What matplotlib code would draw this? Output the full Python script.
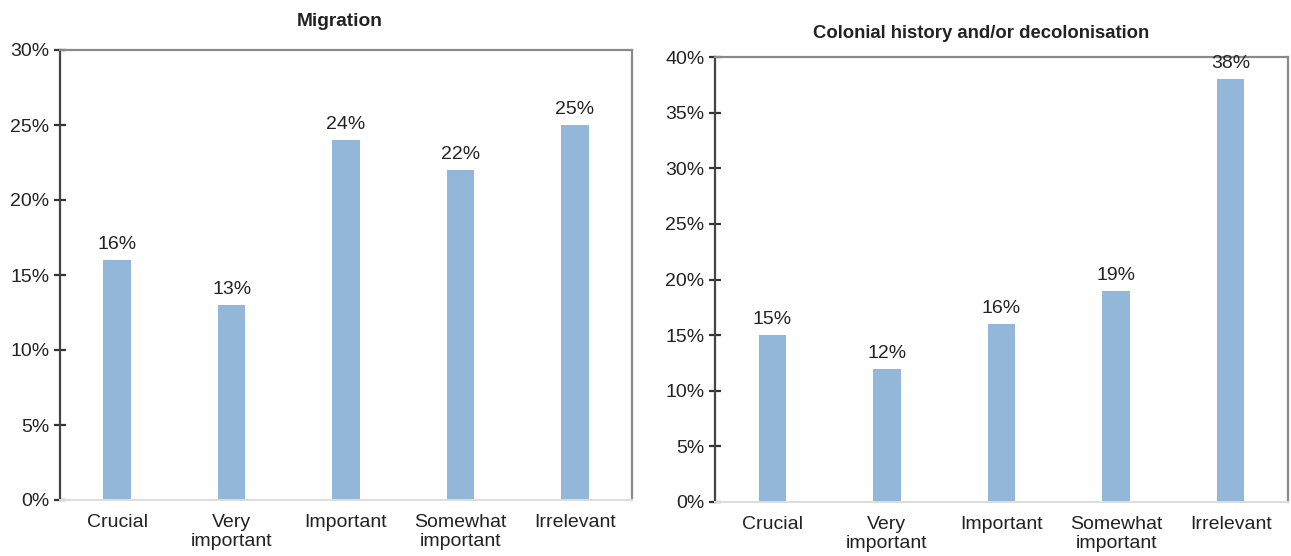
import matplotlib
matplotlib.use("Agg")
import matplotlib.pyplot as plt
from matplotlib.ticker import MultipleLocator, FuncFormatter

plt.rcParams['font.family'] = ['Liberation Sans', 'DejaVu Sans']

categories = ["Crucial", "Very\nimportant", "Important", "Somewhat\nimportant", "Irrelevant"]
migration = [16, 13, 24, 22, 25]
colonial = [15, 12, 16, 19, 38]

BAR = "#92b7d9"
TEXT = "#222222"
FS = 14

fig = plt.figure(figsize=(12.91, 5.56), dpi=100)
W, H = 1291, 556

def make_panel(rect_px, values, ymax, title, title_xy, title_fs):
    x0, y0, x1, y1 = rect_px
    ax = fig.add_axes([x0 / W, 1 - y1 / H, (x1 - x0) / W, (y1 - y0) / H])
    xs = range(len(values))
    ax.bar(xs, values, width=0.24, color=BAR, edgecolor="none", zorder=2)
    for x, v in zip(xs, values):
        ax.annotate(f"{v}%", (x, v), xytext=(0, 5), textcoords="offset points",
                    ha="center", va="bottom", fontsize=FS, color=TEXT)
    ax.set_xlim(-0.5, len(values) - 0.5)
    ax.set_ylim(0, ymax)
    ax.yaxis.set_major_locator(MultipleLocator(5))
    ax.yaxis.set_major_formatter(FuncFormatter(lambda v, p: f"{v:.0f}%"))
    ax.set_xticks(list(xs))
    ax.set_xticklabels(categories, fontsize=FS, color=TEXT, linespacing=1.2)
    ax.tick_params(axis="x", length=0, pad=10)
    ax.tick_params(axis="y", direction="inout", length=9, width=1.6,
                   color="#333333", labelsize=FS, labelcolor=TEXT, pad=3)
    ax.spines["left"].set_color("#444444")
    ax.spines["left"].set_linewidth(1.6)
    for s in ("top", "right"):
        ax.spines[s].set_color("#8a8a8a")
        ax.spines[s].set_linewidth(1.6)
    ax.spines["bottom"].set_color("#dddddd")
    ax.spines["bottom"].set_linewidth(1.4)
    tx, ty = title_xy
    fig.text(tx / W, 1 - ty / H, title, ha="center", va="center",
             fontsize=title_fs, fontweight="bold", color=TEXT)
    return ax

make_panel((60, 50, 632, 500), migration, 30, "Migration", (340, 21), 13.8)
make_panel((715, 57, 1288, 502), colonial, 40,
           "Colonial history and/or decolonisation", (981, 33), 13.3)

fig.savefig("out.png", dpi=100)
